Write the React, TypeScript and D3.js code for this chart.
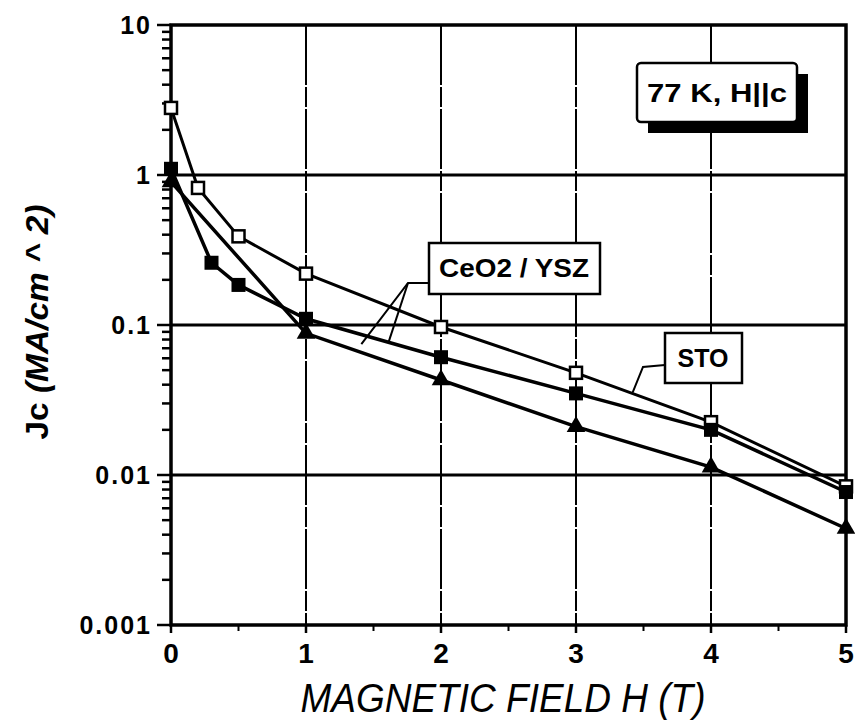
import React from 'react'
import * as d3 from 'd3'

// open squares (STO substrate)
const stoField = [0, 0.2, 0.5, 1, 2, 3, 4, 5]
const stoJc = [2.8, 0.82, 0.39, 0.22, 0.097, 0.048, 0.0225, 0.0084]
// filled squares (CeO2 / YSZ)
const ceoSqField = [0, 0.3, 0.5, 1, 2, 3, 4, 5]
const ceoSqJc = [1.1, 0.26, 0.185, 0.11, 0.061, 0.035, 0.02, 0.0077]
// filled triangles (CeO2 / YSZ)
const ceoTriField = [0, 1, 2, 3, 4, 5]
const ceoTriJc = [0.9, 0.088, 0.043, 0.021, 0.0113, 0.0044]

const xTicks = [0, 1, 2, 3, 4, 5]
const xMinorTicks = [0.5, 1.5, 2.5, 3.5, 4.5]
const yTickLabels = ['0.001', '0.01', '0.1', '1', '10']

const width = 855
const height = 724
const left = 171
const right = 846
const top = 25
const bottom = 625

function App() {
    const x = d3.scaleLinear().domain([0, 5]).range([left, right])
    const y = d3.scaleLog().domain([0.001, 10]).range([bottom, top])

    const line = d3.line<[number, number]>()
        .x(d => x(d[0]))
        .y(d => y(d[1]))

    const sto = stoField.map((h, i) => [h, stoJc[i]] as [number, number])
    const ceoSq = ceoSqField.map((h, i) => [h, ceoSqJc[i]] as [number, number])
    const ceoTri = ceoTriField.map((h, i) => [h, ceoTriJc[i]] as [number, number])

    const yMinor = y.ticks().filter(v => Math.abs(Math.log10(v) - Math.round(Math.log10(v))) > 1e-6)
    const gridY = [0.01, 0.1, 1]
    const gridX = [1, 2, 3, 4]

    const tri = d3.symbol().type(d3.symbolTriangle).size(150)()
    const font = 'Liberation Sans, Arial, sans-serif'

    // callout anchors (data space)
    const ceoAnchorA = x(1.41), ceoAnchorAy = y(0.0745)
    const ceoAnchorB = x(1.61), ceoAnchorBy = y(0.076)
    const stoAnchor = x(3.42), stoAnchorY = y(0.0355)

    return (
        <svg width={width} height={height} style={{ position: 'absolute', left: 0, top: 0, background: '#fff' }}>
            {/* grid */}
            {gridY.map(v => (
                <line key={'gy' + v} x1={left} x2={right} y1={y(v)} y2={y(v)} stroke="#000" strokeWidth={3} />
            ))}
            {gridX.map(v => (
                <line key={'gx' + v} x1={x(v)} x2={x(v)} y1={top} y2={bottom} stroke="#000" strokeWidth={2} strokeDasharray="60 2 20 2" />
            ))}

            {/* frame */}
            <rect x={left} y={top} width={right - left} height={bottom - top} fill="none" stroke="#000" strokeWidth={3.5} />

            {/* y ticks */}
            {yTickLabels.map(t => (
                <g key={'yt' + t}>
                    <line x1={left - 14} x2={left} y1={y(+t)} y2={y(+t)} stroke="#000" strokeWidth={2.5} />
                    <text x={left - 19} y={y(+t)} dy="0.35em" textAnchor="end" fontFamily={font} fontWeight="bold" fontSize={25} letterSpacing={2}>{t}</text>
                </g>
            ))}
            {yMinor.map(v => (
                <line key={'ym' + v} x1={left - 9} x2={left} y1={y(v)} y2={y(v)} stroke="#000" strokeWidth={2.5} />
            ))}

            {/* x ticks */}
            {xTicks.map(t => (
                <g key={'xt' + t}>
                    <line x1={x(t)} x2={x(t)} y1={bottom} y2={bottom + 8} stroke="#000" strokeWidth={2.5} />
                    <text x={x(t)} y={bottom + 38} textAnchor="middle" fontFamily={font} fontWeight="bold" fontSize={28}>{t}</text>
                </g>
            ))}
            {xMinorTicks.map(t => (
                <line key={'xm' + t} x1={x(t)} x2={x(t)} y1={bottom} y2={bottom + 6} stroke="#000" strokeWidth={2} />
            ))}

            {/* series lines */}
            <path d={line(sto) || ''} fill="none" stroke="#000" strokeWidth={3} />
            <path d={line(ceoSq) || ''} fill="none" stroke="#000" strokeWidth={3.5} />
            <path d={line(ceoTri) || ''} fill="none" stroke="#000" strokeWidth={3.5} />

            {/* markers */}
            {sto.map((d, i) => (
                <rect key={'so' + i} x={x(d[0]) - 6} y={y(d[1]) - 6} width={12} height={12} fill="#fff" stroke="#000" strokeWidth={2.5} />
            ))}
            {ceoSq.map((d, i) => (
                <rect key={'cs' + i} x={x(d[0]) - 7} y={y(d[1]) - 7} width={14} height={14} fill="#000" />
            ))}
            {ceoTri.map((d, i) => (
                <path key={'ct' + i} d={tri || ''} transform={`translate(${x(d[0])},${y(d[1])})`} fill="#000" />
            ))}

            {/* 77 K label with shadow */}
            <rect x={648} y={74} width={160} height={59} fill="#000" />
            <rect x={637} y={63} width={160} height={59} rx={4} fill="#fff" stroke="#000" strokeWidth={2.5} />
            <text x={717} y={93} dy="0.35em" textAnchor="middle" fontFamily={font} fontWeight="bold" fontSize={26} textLength={140} lengthAdjust="spacingAndGlyphs">77 K, H||c</text>

            {/* CeO2 / YSZ callout */}
            <polyline points={`${ceoAnchorA},${ceoAnchorAy} 408,283 429,283`} fill="none" stroke="#000" strokeWidth={2} />
            <line x1={408} y1={283} x2={ceoAnchorB} y2={ceoAnchorBy} stroke="#000" strokeWidth={2} />
            <rect x={429} y={243} width={171} height={51} fill="#fff" stroke="#000" strokeWidth={2.5} />
            <text x={514} y={268} dy="0.35em" textAnchor="middle" fontFamily={font} fontSize={25} fontWeight="bold" textLength={150} lengthAdjust="spacingAndGlyphs">CeO2 / YSZ</text>

            {/* STO callout */}
            <polyline points={`${stoAnchor},${stoAnchorY} 643,367 665,365`} fill="none" stroke="#000" strokeWidth={2} />
            <rect x={665} y={333} width={77} height={50} fill="#fff" stroke="#000" strokeWidth={2.5} />
            <text x={703} y={358} dy="0.35em" textAnchor="middle" fontFamily={font} fontSize={25} fontWeight="bold">STO</text>

            {/* axis titles */}
            <text transform={`translate(48,322) rotate(-90)`} textAnchor="middle" fontFamily={font} fontWeight="bold" fontSize={31} textLength={235} lengthAdjust="spacingAndGlyphs">
                Jc <tspan fontStyle="italic">(MA/cm ^ 2)</tspan>
            </text>
            <text x={503} y={712} textAnchor="middle" fontFamily={font} fontStyle="italic" fontSize={40} textLength={405} lengthAdjust="spacingAndGlyphs">
                MAGNETIC FIELD H (T)
            </text>
        </svg>
    )
}

export default App
